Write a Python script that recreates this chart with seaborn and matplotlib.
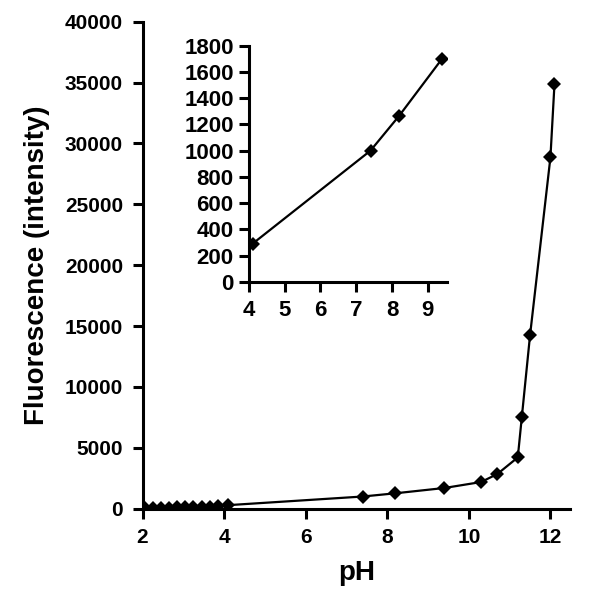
import matplotlib
matplotlib.use("Agg")
import matplotlib.pyplot as plt
import seaborn as sns
import pandas as pd

# fluorescence vs pH
ph = [2.05, 2.25, 2.45, 2.65, 2.85, 3.05, 3.25, 3.45, 3.65, 3.85, 4.1,
      7.4, 8.2, 9.4, 10.3, 10.7, 11.2, 11.3, 11.5, 12.0, 12.1]
intensity = [60, 70, 80, 90, 100, 110, 130, 150, 170, 200, 290,
             1000, 1265, 1700, 2190, 2850, 4210, 7560, 14230, 28850, 34900]

# inset: the middle pH range
inset_ph = [4.1, 7.4, 8.2, 9.4]
inset_intensity = [290, 1000, 1265, 1700]

main_xticks = [2, 4, 6, 8, 10, 12]
main_yticks = list(range(0, 40001, 5000))
inset_xticks = [4, 5, 6, 7, 8, 9]
inset_yticks = list(range(0, 1801, 200))

sns.set_style("ticks")
plt.rcParams['font.family'] = ['Liberation Sans', 'DejaVu Sans']
plt.rcParams['font.weight'] = 'bold'
for key in ['text.color', 'axes.labelcolor', 'xtick.color', 'ytick.color',
            'axes.edgecolor']:
    plt.rcParams[key] = 'black'

df = pd.DataFrame({"pH": ph, "Fluorescence": intensity})
df_inset = pd.DataFrame({"pH": inset_ph, "Fluorescence": inset_intensity})

fig = plt.figure(figsize=(6.0, 6.02), dpi=100)
ax = fig.add_axes([0.2375, 0.155, 0.7125, 0.809])

sns.lineplot(data=df, x="pH", y="Fluorescence", ax=ax, color="black",
             linewidth=1.6, marker="D", markersize=7.5, markeredgewidth=0,
             sort=False)
ax.set_xlim(2, 12.48)
ax.set_ylim(0, 40000)
ax.set_xticks(main_xticks)
ax.set_yticks(main_yticks)
ax.set_xlabel("pH", fontsize=20, fontweight="bold", labelpad=9)
ax.set_ylabel("Fluorescence (intensity)", fontsize=20, fontweight="bold",
              labelpad=11)
ax.tick_params(labelsize=15, width=2.2, length=7, pad=7)
for lbl in ax.get_xticklabels() + ax.get_yticklabels():
    lbl.set_fontweight("bold")
sns.despine(ax=ax)
for side in ["left", "bottom"]:
    ax.spines[side].set_linewidth(2.2)

# inset axes
axin = fig.add_axes([0.415, 0.532, 0.33, 0.392])
sns.lineplot(data=df_inset, x="pH", y="Fluorescence", ax=axin, color="black",
             linewidth=1.6, marker="D", markersize=7.5, markeredgewidth=0,
             sort=False)
axin.set_xlim(4, 9.54)
axin.set_ylim(0, 1800)
axin.set_xticks(inset_xticks)
axin.set_yticks(inset_yticks)
axin.set_xlabel("")
axin.set_ylabel("")
axin.tick_params(labelsize=16, width=2.2, length=7, pad=4)
axin.tick_params(axis="x", pad=6)
for lbl in axin.get_xticklabels() + axin.get_yticklabels():
    lbl.set_fontweight("bold")
sns.despine(ax=axin)
for side in ["left", "bottom"]:
    axin.spines[side].set_linewidth(2.2)
axin.patch.set_alpha(0)

fig.savefig("out.png", dpi=100)
